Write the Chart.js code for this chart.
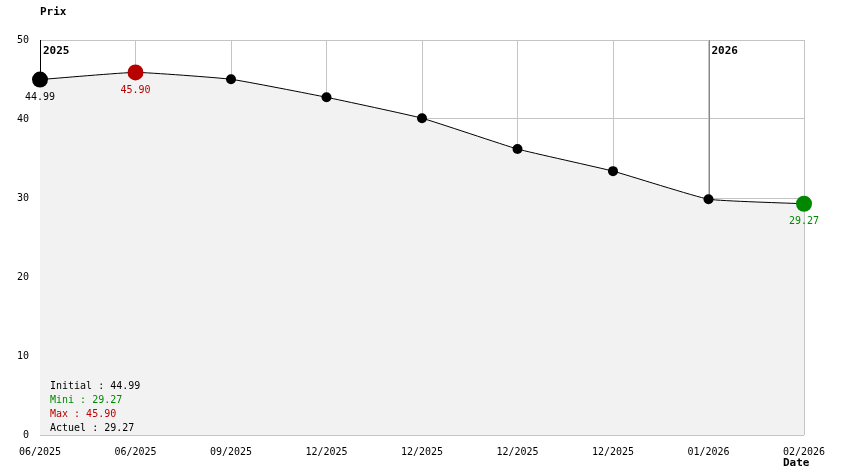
<!DOCTYPE html>
<html>
<head>
<meta charset="utf-8">
<script src="https://cdn.jsdelivr.net/npm/chart.js@4/dist/chart.umd.min.js"></script>
<style>
  html, body { margin: 0; padding: 0; background: #fff; }
  canvas { display: block; }
</style>
</head>
<body>
<canvas id="chart" width="844" height="474"></canvas>
<script>
// valeurs
const dates = ['06/2025', '06/2025', '09/2025', '12/2025', '12/2025', '12/2025', '12/2025', '01/2026', '02/2026'];
const prices = [44.99, 45.90, 45.03, 42.75, 40.1, 36.2, 33.4, 29.85, 29.27];
const yTicks = [0, 10, 20, 30, 40, 50];
const years = ['2025', '2026'];
const yearIndex = [0, 7];

const FONT = 'DejaVu Sans Mono, monospace';
const RED = '#b80000';
const GREEN = '#008800';

const initial = prices[0];
const current = prices[prices.length - 1];
const mini = Math.min(...prices);
const maxi = Math.max(...prices);
const iMax = prices.indexOf(maxi);
const iLast = prices.length - 1;

const pointColors = prices.map((p, i) => (i === iMax ? RED : i === iLast ? GREEN : '#000'));
const pointRadius = prices.map((p, i) => (i === 0 || i === iMax || i === iLast ? 8 : 5));

const decorations = {
  id: 'decorations',
  beforeDatasetsDraw(chart) {
    const { ctx, chartArea, scales } = chart;
    ctx.save();
    ctx.lineWidth = 1;
    yearIndex.forEach((idx, k) => {
      const x = Math.round(scales.x.getPixelForValue(idx)) + 0.5;
      ctx.strokeStyle = k === 0 ? '#000' : '#888';
      ctx.beginPath();
      ctx.moveTo(x, chartArea.top);
      ctx.lineTo(x, scales.y.getPixelForValue(prices[idx]));
      ctx.stroke();
    });
    ctx.restore();
  },
  afterDatasetsDraw(chart) {
    const { ctx, chartArea, scales } = chart;
    const meta = chart.getDatasetMeta(0);
    ctx.save();
    ctx.font = '10px ' + FONT;
    ctx.textAlign = 'center';
    ctx.textBaseline = 'middle';
    const labelled = [[0, '#000'], [iMax, RED], [iLast, GREEN]];
    labelled.forEach(([i, col]) => {
      const pt = meta.data[i];
      ctx.fillStyle = col;
      ctx.fillText(prices[i].toFixed(2), pt.x, pt.y + 18);
    });

    // années
    ctx.font = 'bold 11px ' + FONT;
    ctx.textAlign = 'left';
    ctx.fillStyle = '#000';
    yearIndex.forEach((idx, k) => {
      ctx.fillText(years[k], scales.x.getPixelForValue(idx) + 3, chartArea.top + 11);
    });

    // titres des axes
    ctx.fillText('Prix', 40, 12);
    ctx.fillText('Date', 783, 463);

    // résumé
    ctx.font = '10px ' + FONT;
    const lines = [
      ['Initial : ' + initial.toFixed(2), '#000'],
      ['Mini : ' + mini.toFixed(2), GREEN],
      ['Max : ' + maxi.toFixed(2), RED],
      ['Actuel : ' + current.toFixed(2), '#000'],
    ];
    lines.forEach(([t, c], i) => {
      ctx.fillStyle = c;
      ctx.fillText(t, 50, 386 + i * 14);
    });
    ctx.restore();
  },
};

new Chart(document.getElementById('chart').getContext('2d'), {
  type: 'line',
  data: {
    labels: dates,
    datasets: [
      {
        data: prices,
        borderColor: '#000',
        borderWidth: 1,
        backgroundColor: '#f2f2f2',
        fill: 'origin',
        tension: 0.12,
        pointRadius,
        pointBackgroundColor: pointColors,
        pointBorderColor: pointColors,
        pointBorderWidth: 0,
      },
    ],
  },
  options: {
    responsive: false,
    animation: false,
    events: [],
    layout: { padding: { top: 40, right: 40, left: 0, bottom: 0 } },
    plugins: { legend: { display: false }, tooltip: { enabled: false } },
    scales: {
      x: {
        offset: false,
        afterFit: (s) => { s.height = 39; },
        grid: { color: '#c4c4c4', drawTicks: false },
        border: { display: false },
        ticks: {
          color: '#000',
          font: { family: FONT, size: 10 },
          padding: 11,
          maxRotation: 0,
          autoSkip: false,
        },
      },
      y: {
        min: 0,
        max: 50,
        afterFit: (s) => { s.width = 40; },
        afterBuildTicks: (s) => { s.ticks = yTicks.map((v) => ({ value: v })); },
        grid: { color: '#c4c4c4', drawTicks: false },
        border: { display: false },
        ticks: {
          color: '#000',
          font: { family: FONT, size: 10 },
          padding: 11,
        },
      },
    },
  },
  plugins: [decorations],
});
</script>
</body>
</html>
